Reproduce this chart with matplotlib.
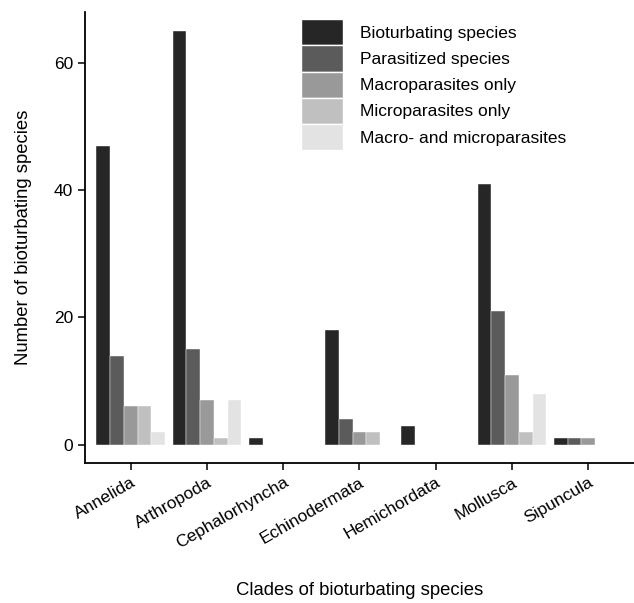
import numpy as np
import matplotlib.pyplot as plt
from matplotlib.patches import Patch

plt.rcParams['font.family'] = ['Liberation Sans', 'DejaVu Sans']

clades = ['Annelida', 'Arthropoda', 'Cephalorhyncha', 'Echinodermata',
          'Hemichordata', 'Mollusca', 'Sipuncula']
groups = ['Bioturbating species', 'Parasitized species', 'Macroparasites only',
          'Microparasites only', 'Macro- and microparasites']
bioturbating = [47, 65, 1, 18, 3, 41, 1]
parasitized = [14, 15, 0, 4, 0, 21, 1]
macro_only = [6, 7, 0, 2, 0, 11, 1]
micro_only = [6, 1, 0, 2, 0, 2, 0]
macro_micro = [2, 7, 0, 0, 0, 8, 0]
series = [bioturbating, parasitized, macro_only, micro_only, macro_micro]
colors = ['#262626', '#5b5b5b', '#999999', '#c0c0c0', '#e3e3e3']

fig = plt.figure(figsize=(6.34, 6.03), dpi=100)
ax = fig.add_axes([0.134, 0.232, 0.866, 0.748])

x = np.arange(len(clades))
w = 0.9 / 5
for i, (vals, col) in enumerate(zip(series, colors)):
    vals = np.array(vals)
    keep = vals > 0
    ax.bar(x[keep] - 0.45 + w * (i + 0.5), vals[keep], width=w, color=col,
           edgecolor='white', linewidth=0.3)

ax.set_xlim(-0.6, 6.6)
ax.set_ylim(-2.9, 68)
ax.set_yticks([0, 20, 40, 60])
ax.set_xticks(x)
ax.set_xticklabels(clades, rotation=30, ha='right', rotation_mode='anchor')
ax.tick_params(labelsize=12.5, length=5, width=1.1, colors='black')
for s in ['top', 'right']:
    ax.spines[s].set_visible(False)
for s in ['left', 'bottom']:
    ax.spines[s].set_linewidth(1.3)

ax.set_ylabel('Number of bioturbating species', fontsize=13.3, labelpad=16)
ax.set_xlabel('Clades of bioturbating species', fontsize=13.3, labelpad=22)

handles = [Patch(facecolor=c, edgecolor='white', linewidth=1) for c in colors]
ax.legend(handles, groups, loc='upper left', bbox_to_anchor=(0.38, 1.0),
          frameon=False, fontsize=12.5, handlelength=2.45, handleheight=1.95,
          labelspacing=0.0, handletextpad=1.0, borderaxespad=0.2,
          borderpad=0.2)

fig.savefig('out.png', dpi=100)
